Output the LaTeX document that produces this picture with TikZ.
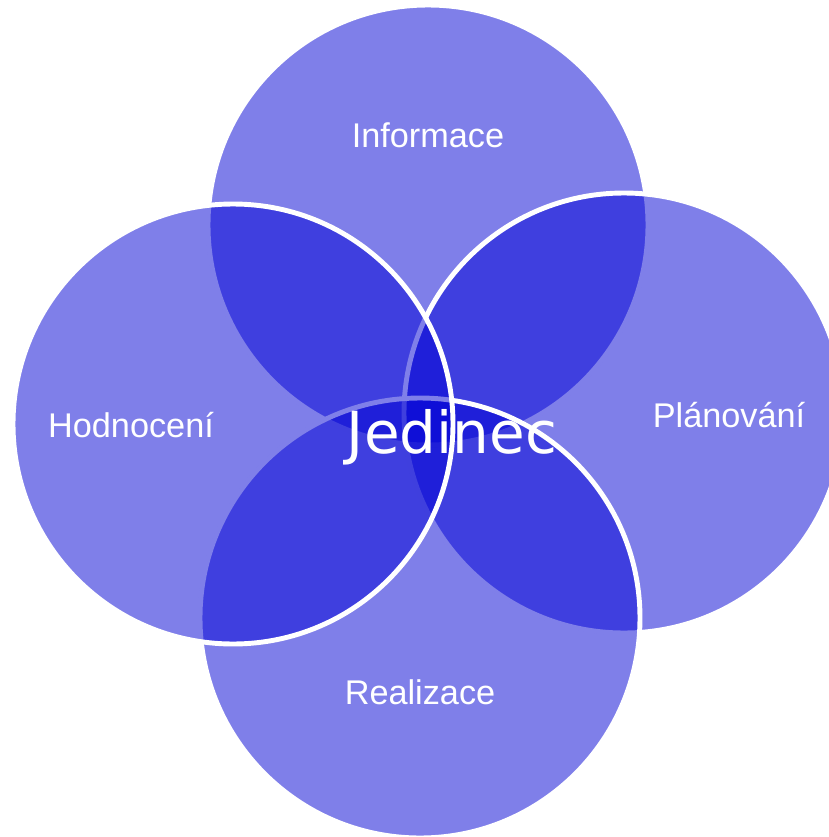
\documentclass[tikz,border=0pt]{standalone}
\usepackage{fontspec}
\setmainfont{Liberation Sans}
\newfontfamily\jedfont{DejaVu Sans}
\definecolor{vennblue}{RGB}{0,0,212}
\begin{document}
\begin{tikzpicture}[
  bubble/.style={circle, minimum size=8.80cm, inner sep=0pt, fill=vennblue, fill opacity=0.5, draw=white, draw opacity=1, line width=2.8pt},
  bubbletext/.style={anchor=base, text=white, font=\fontsize{19.5}{23}\selectfont}
]
\useasboundingbox (0,0) rectangle (16.58,-16.74);
% Kruhy (poradi: nahore, vpravo, dole, vlevo)
\node[bubble] (info) at (8.56,-4.50) {};
\node[bubble] (plan) at (12.48,-8.26) {};
\node[bubble] (real) at (8.40,-12.36) {};
\node[bubble] (hodn) at (4.66,-8.48) {};

% Popisky
\node[bubbletext] (tinfo) at (8.56,-2.94) {Informace};
\node[bubbletext] (tplan) at (14.58,-8.54) {Plánování};
\node[bubbletext] (treal) at (8.40,-14.08) {Realizace};
\node[bubbletext] (thodn) at (2.62,-8.74) {Hodnocení};

% Stred
\node[anchor=base, text=white, font=\jedfont\fontsize{33}{38}\selectfont] (jedinec) at (9.04,-9.06) {Jedinec};
\end{tikzpicture}
\end{document}
